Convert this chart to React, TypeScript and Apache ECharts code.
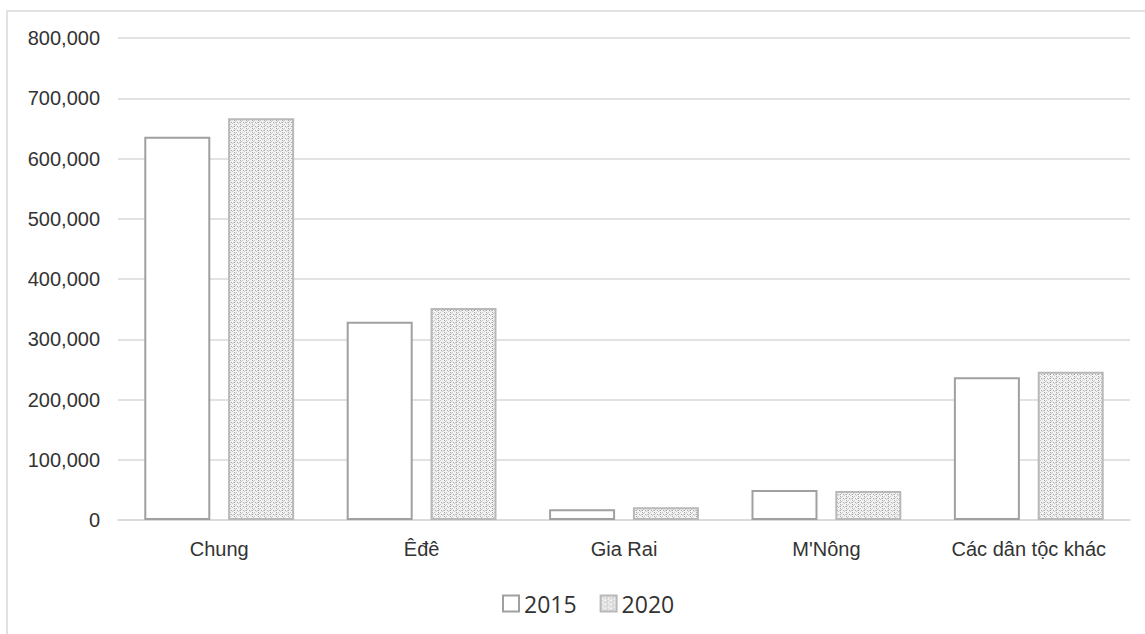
import React, { useEffect, useRef } from "react";
import * as echarts from "echarts";

const categories = ["Chung", "Êđê", "Gia Rai", "M'Nông", "Các dân tộc khác"];
const series2015 = [636000, 329000, 18000, 50000, 237000];
const series2020 = [667000, 352000, 21000, 48000, 246000];
const seriesNames = ["2015", "2020"];

function makePattern(): HTMLCanvasElement | string {
  try {
    const c = document.createElement("canvas");
    c.width = 6;
    c.height = 4;
    const ctx = c.getContext("2d");
    if (!ctx) return "#d8d8d8";
    ctx.fillStyle = "#f2f2f2";
    ctx.fillRect(0, 0, 6, 4);
    ctx.fillStyle = "#a8a8a8";
    ctx.fillRect(0, 0, 1, 1);
    ctx.fillRect(3, 2, 1, 1);
    ctx.fillRect(0, 2, 1, 1);
    ctx.fillStyle = "#c8c8c8";
    ctx.fillRect(1, 1, 1, 1);
    ctx.fillRect(4, 3, 1, 1);
    ctx.fillRect(2, 0, 1, 1);
    ctx.fillRect(5, 2, 1, 1);
    return c;
  } catch (e) {
    return "#d8d8d8";
  }
}

export default function App() {
  const ref = useRef<HTMLDivElement>(null);
  useEffect(() => {
    if (!ref.current) return;
    const chart = echarts.init(ref.current, undefined, { renderer: "svg" });
    const pat = makePattern();
    const fill2020: any = typeof pat === "string" ? pat : { image: pat, repeat: "repeat" };
    chart.setOption({
      animation: false,
      backgroundColor: "#ffffff",
      graphic: [
        {
          type: "rect",
          shape: { x: 7, y: 11, width: 1150, height: 640 },
          style: { fill: "none", stroke: "#d9d9d9", lineWidth: 1.5 },
          silent: true,
        },
      ],
      grid: { left: 118, right: 15, top: 38, bottom: 114 },
      legend: {
        top: 587,
        left: 497,
        icon: "rect",
        itemWidth: 16,
        itemHeight: 16,
        itemGap: 23,
        textStyle: { fontFamily: "Open Sans", fontSize: 23, color: "#333333" },
        data: seriesNames,
      },
      xAxis: {
        type: "category",
        data: categories,
        axisLine: { show: true, lineStyle: { color: "#d9d9d9", width: 1.5 } },
        axisTick: { show: false },
        axisLabel: {
          fontFamily: "Liberation Sans",
          fontSize: 20,
          color: "#333333",
          margin: 19,
        },
      },
      yAxis: {
        type: "value",
        min: 0,
        max: 800000,
        interval: 100000,
        axisLine: { show: false },
        axisTick: { show: false },
        splitLine: { lineStyle: { color: "#d9d9d9", width: 1.5 } },
        axisLabel: {
          fontFamily: "Liberation Sans",
          fontSize: 20,
          color: "#333333",
          margin: 18,
          formatter: (v: number) => v.toLocaleString("en-US"),
        },
      },
      series: [
        {
          name: seriesNames[0],
          type: "bar",
          data: series2015,
          barWidth: 66,
          barGap: "27%",
          itemStyle: { color: "#ffffff", borderColor: "#a0a0a0", borderWidth: 2 },
        },
        {
          name: seriesNames[1],
          type: "bar",
          data: series2020,
          barWidth: 66,
          itemStyle: { color: fill2020, borderColor: "#b8b8b8", borderWidth: 2 },
        },
      ],
    });
    return () => chart.dispose();
  }, []);
  return (
    <div
      ref={ref}
      style={{ position: "absolute", left: 0, top: 0, width: 1145, height: 634 }}
    />
  );
}
